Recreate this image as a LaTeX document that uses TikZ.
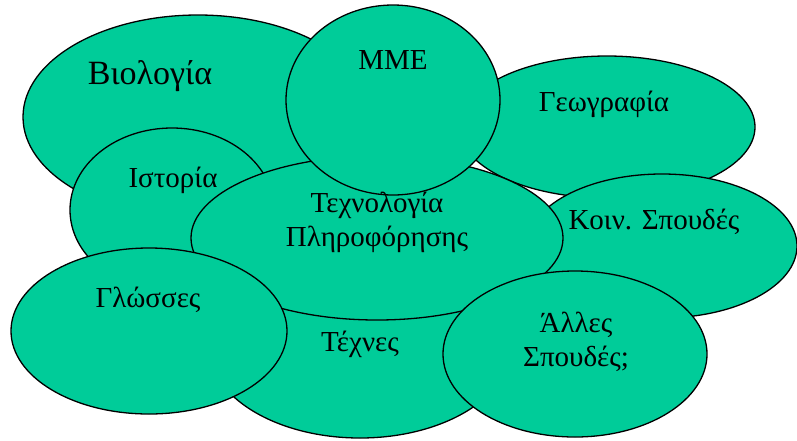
\documentclass[tikz,border=0pt]{standalone}
\usepackage{fontspec}
\setmainfont{Liberation Serif}
\usepackage{tikz}
\definecolor{subjgreen}{RGB}{0,204,153}

\begin{document}
\begin{tikzpicture}[x=1pt,y=-1pt,
                    field/.style={fill=subjgreen, draw=black, line width=1.3pt},
                    subj/.style={font=\fontsize{29}{34}\selectfont, align=center, inner sep=0pt},
                    bigsubj/.style={font=\fontsize{34}{40}\selectfont, inner sep=0pt},
                   ]

\useasboundingbox (0,0) rectangle (797,440);

% the fields, back to front
\draw[field] (198,117) ellipse [x radius=175, y radius=102];
\draw[field] (607,127) ellipse [x radius=148, y radius=71];
\draw[field] (662,246) ellipse [x radius=135, y radius=72];
\draw[field] (360,345) ellipse [x radius=152, y radius=93];
\draw[field] (172,210) ellipse [x radius=102, y radius=82];
\draw[field] (377,238) ellipse [x radius=186, y radius=82];
\draw[field] (393,100) ellipse [x radius=107, y radius=95];
\draw[field] (149,331) ellipse [x radius=138, y radius=83];
\draw[field] (575,354) ellipse [x radius=132, y radius=83];

% labels
\node[bigsubj] (bio) at (150,76) {Βιολογία};
\node[subj] (mme) at (393,60) {ΜΜΕ};
\node[subj] (geo) at (604,104) {Γεωγραφία};
\node[subj] (ist) at (173,180) {Ιστορία};
\node[subj] (tech) at (377,222) {Τεχνολογία\\Πληροφόρησης};
\node[subj] (koin) at (654,222) {Κοιν. Σπουδές};
\node[subj] (glos) at (148,300) {Γλώσσες};
\node[subj] (art) at (360,344) {Τέχνες};
\node[subj] (alles) at (576,342) {Άλλες\\Σπουδές;};

\end{tikzpicture}
\end{document}
